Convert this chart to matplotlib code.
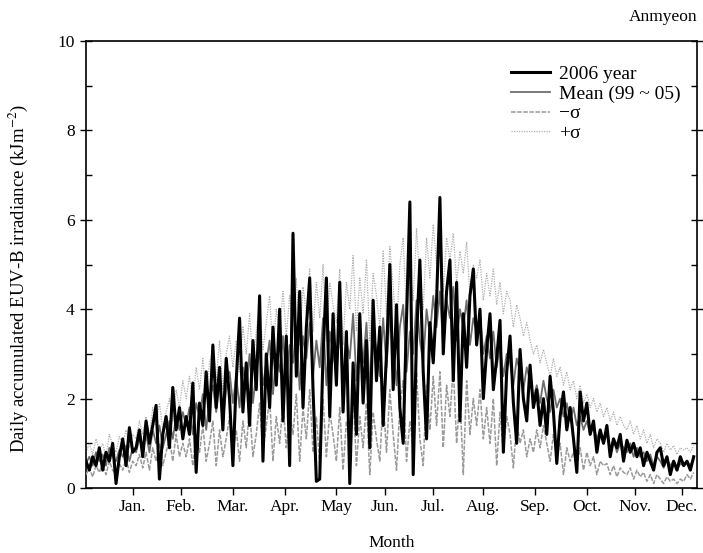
import numpy as np
import matplotlib
matplotlib.use('Agg')
import matplotlib.pyplot as plt

plt.rcParams['font.family'] = ['Liberation Serif', 'DejaVu Serif']
plt.rcParams['mathtext.fontset'] = 'stix'

# day of year, every second day
days = np.arange(1, 366, 2)

# 2006 year (2-day steps)
y2006 = [
    0.6, 0.4, 0.7, 0.5, 0.9, 0.4, 0.8, 0.6, 1.0, 0.1, 0.7, 1.1, 0.5, 1.35, 0.8,
    0.9, 1.3, 0.7, 1.5, 1.0, 1.4, 1.85, 0.2, 1.2, 1.6, 0.9, 2.25, 1.3, 1.8, 1.1,
    1.6, 1.2, 2.35, 0.35, 1.9, 1.4, 2.6, 1.5, 3.2, 1.8, 2.7, 1.3, 2.9, 2.0, 0.5,
    2.4, 3.8, 1.7, 2.8, 1.4, 3.3, 2.2, 4.3, 0.6, 3.0, 1.8, 3.6, 2.3, 4.0, 1.5,
    3.4, 0.5, 5.7, 2.5, 4.4, 1.8, 3.6, 4.7, 2.2, 0.15, 0.2, 3.0, 4.7, 1.6, 3.9,
    2.3, 4.6, 1.7, 3.5, 0.1, 2.8, 1.2, 3.9, 1.9, 3.3, 0.9, 4.2, 2.4, 3.6, 1.4,
    3.0, 5.0, 2.2, 4.1, 1.8, 1.0, 3.8, 6.4, 0.3, 3.4, 5.1, 2.6, 1.1, 3.7, 2.8,
    4.2, 6.5, 3.0, 4.4, 5.1, 2.4, 4.6, 1.5, 3.9, 2.7, 4.3, 4.9, 3.2, 4.0, 2.0,
    3.1, 3.9, 2.2, 2.9, 3.75, 0.8, 2.6, 3.4, 1.9, 1.0, 3.1, 2.0, 1.5, 2.75, 1.8,
    2.2, 1.4, 2.0, 1.2, 2.5, 1.7, 0.55, 1.6, 2.15, 1.3, 1.8, 1.1, 0.35, 2.15, 1.5,
    1.9, 1.2, 1.5, 0.8, 1.3, 1.0, 1.4, 0.7, 1.1, 0.9, 1.2, 0.6, 1.07, 0.8, 1.0,
    0.7, 0.9, 0.5, 0.8, 0.6, 0.4, 0.8, 0.9, 0.5, 0.7, 0.3, 0.6, 0.4, 0.7, 0.5,
    0.6, 0.4, 0.7,
]

# mean 1999-2005
mean_9905 = [
    0.55, 0.7, 0.5, 0.8, 0.6, 0.75, 0.5, 0.9, 0.7, 0.6, 0.85, 0.7, 0.95, 0.6, 0.9,
    0.8, 1.1, 0.9, 1.2, 0.8, 1.3, 1.0, 1.4, 0.9, 1.2, 1.5, 1.1, 1.6, 1.3, 1.7,
    1.4, 1.8, 1.2, 1.9, 1.6, 2.1, 1.3, 2.0, 2.3, 1.7, 2.4, 1.5, 2.2, 2.6, 1.9,
    2.5, 1.8, 2.7, 2.2, 3.0, 1.9, 2.6, 3.1, 2.3, 2.8, 3.3, 2.1, 3.0, 2.6, 3.4,
    2.4, 3.2, 2.8, 3.6, 2.2, 3.4, 2.9, 3.7, 2.5, 3.3, 2.7, 3.8, 2.3, 3.5, 3.0,
    2.6, 3.6, 2.1, 3.3, 2.9, 3.9, 2.4, 3.4, 2.8, 3.7, 2.2, 3.5, 3.1, 2.5, 3.8,
    2.7, 3.9, 3.2, 2.3, 3.6, 4.1, 2.6, 3.5, 3.0, 4.2, 3.3, 2.8, 4.0, 3.4, 4.3,
    3.6, 4.4, 3.1, 4.2, 3.8, 4.5, 3.3, 4.0, 3.6, 4.2, 3.2, 3.8, 3.5, 3.9, 3.0,
    3.4, 2.9, 3.5, 2.7, 3.2, 2.5, 3.0, 2.8, 2.3, 2.9, 2.6, 2.2, 2.7, 2.4, 2.0,
    2.3, 1.9, 2.4, 2.0, 1.7, 2.2, 1.8, 2.0, 1.6, 1.9, 1.5, 1.8, 1.4, 1.6, 1.3,
    1.5, 1.2, 1.4, 1.1, 1.3, 1.0, 1.2, 0.9, 1.1, 0.8, 1.0, 0.9, 0.8, 1.0, 0.7,
    0.9, 0.7, 0.8, 0.6, 0.75, 0.5, 0.7, 0.6, 0.45, 0.65, 0.5, 0.6, 0.4, 0.55, 0.5,
    0.6, 0.5, 0.65,
]

# mean - sigma
minus_sigma = [
    0.3, 0.45, 0.25, 0.5, 0.35, 0.55, 0.3, 0.6, 0.4, 0.3, 0.55, 0.4, 0.65, 0.35, 0.6,
    0.5, 0.75, 0.45, 0.8, 0.4, 0.9, 0.6, 1.0, 0.5, 0.8, 1.1, 0.6, 1.2, 0.7, 1.0,
    0.7, 1.1, 0.5, 1.2, 0.8, 1.4, 0.6, 1.0, 1.5, 0.5, 1.3, 0.7, 1.1, 1.6, 0.8,
    1.3, 0.6, 1.5, 0.9, 1.8, 0.7, 1.2, 1.9, 0.8, 1.4, 2.0, 0.6, 1.6, 1.0, 1.9,
    0.9, 1.7, 1.2, 2.1, 0.6, 1.8, 1.1, 2.2, 0.8, 1.6, 0.5, 2.0, 0.7, 1.7, 1.2,
    0.6, 1.8, 0.4, 1.5, 1.0, 2.1, 0.5, 1.6, 0.9, 1.9, 0.3, 1.7, 1.1, 0.6, 2.0,
    0.8, 2.2, 1.2, 0.4, 1.8, 2.4, 0.6, 1.5, 0.9, 2.6, 1.1, 0.5, 2.3, 1.3, 2.5,
    1.4, 2.6, 0.9, 2.3, 1.6, 2.7, 1.0, 2.1, 0.3, 2.4, 1.2, 2.0, 1.4, 2.2, 1.1,
    1.8, 1.0, 2.0, 0.5, 1.7, 0.8, 1.6, 1.2, 0.45, 1.5, 1.0, 1.3, 0.7, 1.1, 0.8,
    1.3, 0.9, 1.4, 1.0, 0.6, 1.2, 0.7, 1.0, 0.3, 0.9, 0.6, 0.8, 0.5, 0.9, 0.4,
    0.8, 0.5, 0.7, 0.3, 0.6, 0.5, 0.55, 0.3, 0.5, 0.25, 0.45, 0.35, 0.3, 0.45, 0.2,
    0.4, 0.25, 0.35, 0.15, 0.3, 0.1, 0.3, 0.2, 0.1, 0.25, 0.15, 0.2, 0.1, 0.2, 0.15,
    0.3, 0.2, 0.35,
]

# mean + sigma
plus_sigma = [
    0.8, 1.0, 0.75, 1.1, 0.85, 1.0, 0.7, 1.2, 0.95, 0.8, 1.15, 1.0, 1.3, 0.9, 1.2,
    1.1, 1.5, 1.2, 1.6, 1.1, 1.8, 1.4, 1.9, 1.3, 1.7, 2.0, 1.5, 2.2, 1.8, 2.4,
    2.0, 2.5, 1.9, 2.7, 2.2, 2.9, 2.0, 2.8, 3.1, 2.4, 3.3, 2.2, 3.0, 3.4, 2.7,
    3.3, 2.6, 3.6, 3.0, 3.9, 2.8, 3.5, 4.1, 3.1, 3.7, 4.3, 3.0, 4.0, 3.5, 4.4,
    3.4, 4.3, 3.8, 4.7, 3.2, 4.5, 3.9, 4.9, 3.5, 4.6, 3.8, 5.0, 3.3, 4.6, 4.1,
    3.7, 4.9, 3.2, 4.6, 4.0, 5.2, 3.5, 4.7, 3.9, 5.1, 3.3, 4.8, 4.3, 3.6, 5.3,
    3.9, 5.4, 4.5, 3.5, 5.0, 5.6, 3.8, 4.9, 4.2, 5.8, 4.6, 4.0, 5.6, 4.7, 5.9,
    5.0, 5.8, 4.4, 5.6, 5.1, 5.7, 4.6, 5.3, 4.8, 5.5, 4.3, 5.0, 4.7, 5.1, 4.2,
    4.8, 4.3, 4.9, 4.1, 4.6, 3.9, 4.4, 4.2, 3.6, 4.1, 3.8, 3.4, 3.7, 3.3, 3.0,
    3.2, 2.8, 3.1, 2.8, 2.5, 2.9, 2.5, 2.7, 2.3, 2.6, 2.2, 2.4, 2.0, 2.3, 1.9,
    2.1, 1.8, 2.0, 1.7, 1.9, 1.6, 1.8, 1.5, 1.7, 1.4, 1.6, 1.4, 1.3, 1.5, 1.2,
    1.4, 1.1, 1.3, 1.0, 1.2, 0.9, 1.1, 1.0, 0.8, 1.0, 0.85, 0.95, 0.75, 0.9, 0.85,
    0.9, 0.8, 0.95,
]

month_labels = ['Jan.', 'Feb.', 'Mar.', 'Apr.', 'May', 'Jun.', 'Jul.', 'Aug.',
                'Sep.', 'Oct.', 'Nov.', 'Dec.']
month_ticks = [29, 58, 89, 120, 151, 180, 209, 239, 270, 301, 330, 358]

fig = plt.figure(figsize=(7.03, 5.53), dpi=100)
ax = fig.add_axes([0.1223, 0.1175, 0.8692, 0.8083])

ax.plot(days, plus_sigma, color='#b0b0b0', lw=0.9, ls=(0, (1, 1)), label='+σ', zorder=2)
ax.plot(days, minus_sigma, color='#9a9a9a', lw=1.1, ls=(0, (3, 1)), label='\u2212σ', zorder=3)
ax.plot(days, mean_9905, color='#6e6e6e', lw=1.3, label='Mean (99 ~ 05)', zorder=4)
ax.plot(days, y2006, color='black', lw=2.2, label='2006 year', zorder=5)

ax.set_xlim(1, 367)
ax.set_ylim(0, 10)
ax.set_xticks(month_ticks)
ax.set_xticklabels(month_labels)
ax.set_yticks([0, 2, 4, 6, 8, 10])
ax.set_yticks([1, 3, 5, 7, 9], minor=True)

ax.tick_params(axis='x', direction='out', length=5, width=1, labelsize=12.5, pad=3)
ax.tick_params(axis='y', which='major', direction='inout', length=9, width=1,
               labelsize=12.5, right=True)
ax.tick_params(axis='y', which='minor', direction='in', length=4, width=1, right=True)
for s in ax.spines.values():
    s.set_linewidth(1.2)

ax.set_xlabel('Month', fontsize=12.5, labelpad=14)
ax.set_ylabel('Daily accumulated EUV-B irradiance (kJm$^{-2}$)', fontsize=13.5)
ax.yaxis.set_label_coords(-0.091, 0.468)
ax.text(1.0, 1.035, 'Anmyeon', transform=ax.transAxes, ha='right', va='bottom', fontsize=12.5)

h, l = ax.get_legend_handles_labels()
ax.legend(h[::-1], l[::-1], loc='upper left', bbox_to_anchor=(0.695, 0.945),
          frameon=False, fontsize=14, handlelength=2.0, handletextpad=0.5,
          labelspacing=0.1, borderaxespad=0, borderpad=0)

fig.savefig('out.png', dpi=100)
